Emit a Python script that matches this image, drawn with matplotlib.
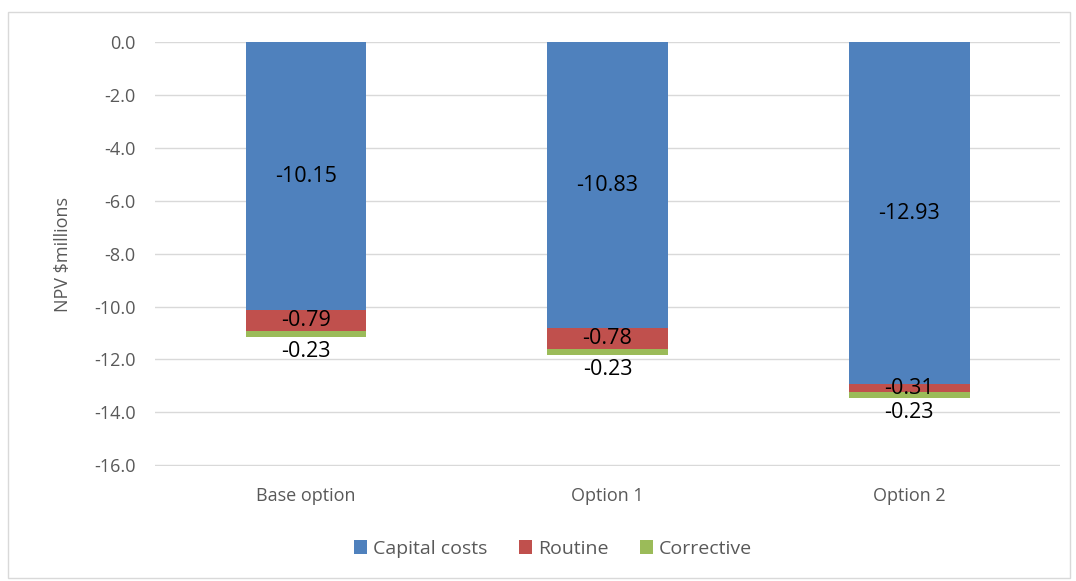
import numpy as np
import matplotlib.pyplot as plt
from matplotlib.patches import Rectangle

plt.rcParams['font.family'] = ['Open Sans', 'DejaVu Sans']

options = ['Base option', 'Option 1', 'Option 2']
capital = [-10.15, -10.83, -12.93]
routine = [-0.79, -0.78, -0.31]
corrective = [-0.23, -0.23, -0.23]

blue = '#4f81bd'
red = '#c0504d'
green = '#9bbb59'
grey = '#595959'

fig = plt.figure(figsize=(10.76, 5.81), dpi=100)
ax = fig.add_axes([155/1076, 1 - 466/581, 905/1076, 424/581])

x = np.arange(len(options))
w = 0.4
cap = np.array(capital)
rou = np.array(routine)
cor = np.array(corrective)

ax.bar(x, cap, w, color=blue, label='Capital costs', zorder=3)
ax.bar(x, rou, w, bottom=cap, color=red, label='Routine', zorder=3)
ax.bar(x, cor, w, bottom=cap + rou, color=green, label='Corrective', zorder=3)

# data labels
for i in range(len(x)):
    ax.text(x[i], cap[i] / 2, f'{cap[i]:.2f}', ha='center', va='center', fontsize=15.5)
    ax.text(x[i], cap[i] + rou[i] / 2, f'{rou[i]:.2f}', ha='center', va='center', fontsize=15.5)
    ax.text(x[i], cap[i] + rou[i] + cor[i] - 0.15, f'{cor[i]:.2f}', ha='center', va='top', fontsize=15.5)

ax.set_xlim(-0.5, 2.5)
ax.set_ylim(-16.03, 0)
ticks = np.arange(-16, 0.1, 2)
ax.set_yticks(ticks)
ax.set_yticklabels([f'{v:.1f}' for v in ticks])
ax.set_xticks(x)
ax.set_xticklabels(options)
ax.tick_params(colors=grey, labelsize=13, length=0, pad=14)
ax.tick_params(axis='x', pad=15)
ax.grid(axis='y', color='#d9d9d9', linewidth=1, zorder=0)
for s in ax.spines.values():
    s.set_visible(False)
ax.set_ylabel('NPV \\$millions', color=grey, fontsize=13, labelpad=16)

ax.legend(loc='center', bbox_to_anchor=(553/1076, 1 - 549/581), bbox_transform=fig.transFigure,
          ncol=3, frameon=False, fontsize=14, labelcolor=grey, handlelength=0.7,
          handleheight=0.7, columnspacing=1.6, handletextpad=0.3)

fig.patches.append(Rectangle((8/1076, 3/581), 1062/1076, 566/581, transform=fig.transFigure,
                             fill=False, edgecolor='#d9d9d9', linewidth=1))

fig.savefig('out.png', dpi=100)
